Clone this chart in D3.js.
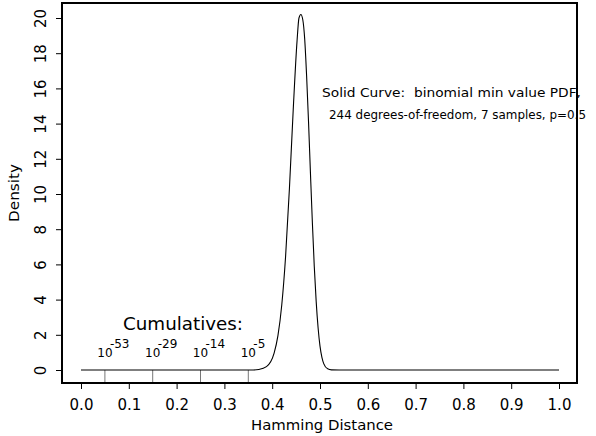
<!DOCTYPE html>
<html><head><meta charset="utf-8">
<script src="https://cdn.jsdelivr.net/npm/d3@7"></script>
<style>body{margin:0;background:#fff}svg{display:block}text{font-family:"DejaVu Sans",sans-serif;fill:#000;white-space:pre}</style>
</head><body>
<svg id="c" width="596" height="436"></svg>
<script>
const xTicks = [0,0.1,0.2,0.3,0.4,0.5,0.6,0.7,0.8,0.9,1.0];
const yTicks = [0,2,4,6,8,10,12,14,16,18,20];
const curveX = [0,0.30,0.36,0.372,0.388,0.404,0.412,0.42,0.428,0.436,0.444,0.452,0.456,0.46,0.464,0.468,0.472,0.476,0.48,0.484,0.488,0.492,0.496,0.5,0.504,0.508,0.516,0.524,0.54,0.6,1.0];
const curveY = [0,0,0,0.03,0.19,0.96,1.95,3.69,6.45,10.3,14.8,18.7,20.0,20.2,19.9,18.8,16.7,14.1,11.2,8.4,5.9,3.9,2.4,1.36,0.72,0.35,0.066,0.009,0,0,0];
const cumX = [0.05,0.15,0.25,0.35];
const cumExp = ["-53","-29","-14","-5"];
const note1 = "Solid Curve:  binomial min value PDF,";
const note2 = "244 degrees-of-freedom, 7 samples, p=0.5";

const svg = d3.select("#c");
const x = d3.scaleLinear().domain([0,1]).range([81,559]);
const y = d3.scaleLinear().domain([0,20]).range([370,18]);
const box = {l:62,t:3,r:577,b:383};

// annotations (under border)
svg.append("text").attr("x",322).attr("y",97).attr("font-size",13).attr("textLength",259).attr("lengthAdjust","spacingAndGlyphs").text(note1);
svg.append("text").attr("x",329).attr("y",119).attr("font-size",11.5).attr("textLength",257).attr("lengthAdjust","spacingAndGlyphs").text(note2);
svg.append("text").attr("x",123).attr("y",330).attr("font-size",17).attr("textLength",120).attr("lengthAdjust","spacingAndGlyphs").text("Cumulatives:");

// cumulative markers
const cg = svg.append("g");
cg.selectAll("line").data(cumX).join("line")
  .attr("x1",d=>x(d)).attr("x2",d=>x(d)).attr("y1",y(0)).attr("y2",box.b)
  .attr("stroke","#777").attr("stroke-width",1);
cumX.forEach((d,i)=>{
  cg.append("text").attr("x",x(d)).attr("y",357).attr("font-size",12).attr("text-anchor","middle").text("10");
  cg.append("text").attr("x",x(d)+5).attr("y",348).attr("font-size",12).text(cumExp[i]);
});

// curve
const pts = curveX.map((d,i)=>[d,curveY[i]]);
svg.append("path").datum(pts)
  .attr("d",d3.line().x(d=>x(d[0])).y(d=>y(d[1])).curve(d3.curveMonotoneX))
  .attr("fill","none").attr("stroke","#000").attr("stroke-width",1.1);

// border
svg.append("rect").attr("x",box.l).attr("y",box.t).attr("width",box.r-box.l).attr("height",box.b-box.t)
  .attr("fill","none").attr("stroke","#000").attr("stroke-width",2);

// x axis
const xa = svg.append("g").attr("transform",`translate(0,${box.b})`)
  .call(d3.axisBottom(x).tickValues(xTicks).tickFormat(d3.format(".1f")).tickSize(6).tickSizeOuter(0));
xa.select(".domain").remove();
xa.selectAll("text").attr("font-size",15).attr("font-family","DejaVu Sans, sans-serif").attr("dy","0").attr("y",27);
svg.append("text").attr("x",322).attr("y",430).attr("font-size",14).attr("text-anchor","middle").attr("textLength",142).attr("lengthAdjust","spacingAndGlyphs").text("Hamming Distance");

// y axis
const ya = svg.append("g").attr("transform",`translate(${box.l},0)`)
  .call(d3.axisLeft(y).tickValues(yTicks).tickSize(6).tickSizeOuter(0));
ya.select(".domain").remove();
ya.selectAll("text").attr("font-size",15).attr("font-family","DejaVu Sans, sans-serif")
  .attr("text-anchor","middle").attr("x",0).attr("dy",0)
  .attr("transform","translate(-16,0) rotate(-90)");
svg.append("text").attr("transform","translate(19,193) rotate(-90)").attr("font-size",14).attr("text-anchor","middle").attr("textLength",58).attr("lengthAdjust","spacingAndGlyphs").text("Density");
</script>
</body></html>
